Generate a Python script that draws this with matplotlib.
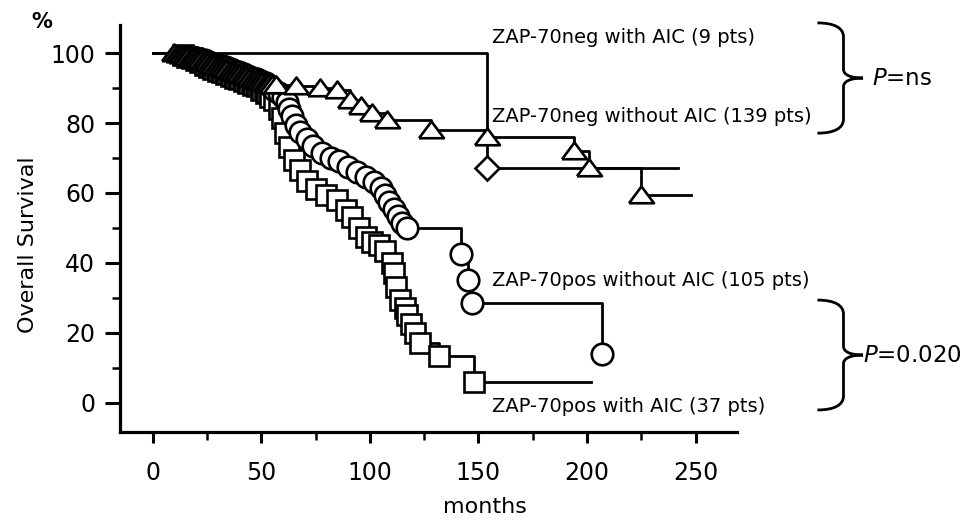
import matplotlib
matplotlib.use("Agg")
import matplotlib.pyplot as plt
from matplotlib.path import Path
from matplotlib.patches import PathPatch

# --- data (months, % survival) ---
# ZAP-70neg without AIC (triangles)
neg_wo_t = [10, 11.5, 13, 14.5, 16, 17.5, 19, 20.5, 22, 23.5, 25, 26.5, 28, 29.5, 31, 32.5,
            34, 35.5, 37, 38.5, 40, 41.5, 43, 44.5, 46, 47.5, 49, 50.5, 52, 53.5, 55, 57,
            66, 77, 85, 91, 96, 101, 108, 128, 154, 194, 201, 225]
neg_wo_s = [100, 99.8, 99.5, 99.2, 99, 98.7, 98.5, 98.2, 98, 97.7, 97.3, 97, 96.7, 96.3, 96, 95.6,
            95.3, 95, 94.6, 94.3, 94, 93.7, 93.3, 93, 92.7, 92.4, 92, 91.8, 91.5, 91.3, 91, 90.8,
            90.5, 90, 89.5, 86.5, 85, 83, 81, 78, 76, 72, 67, 59.5]
neg_wo_end = 248

# ZAP-70neg with AIC (diamonds)
neg_w_t = [154]
neg_w_s = [67]
neg_w_end = 242

# ZAP-70pos without AIC (circles)
pos_wo_t = [18, 20, 22, 24, 26, 28, 30, 32, 34, 36, 38, 40, 42, 44, 46, 48, 50, 52, 54, 56,
            58, 60, 62, 63, 64, 66, 68, 71, 74, 78, 82, 86, 90, 94, 98, 102, 105, 107, 109, 111,
            113, 115, 117, 142, 145, 147, 207]
pos_wo_s = [99, 98.7, 98.3, 98, 97.5, 97, 96.7, 96.3, 96, 95.5, 95, 94.5, 94, 93.5, 93, 92.5, 92, 91.3, 90.5, 89.5,
            88.5, 87.5, 86, 84, 82, 79.5, 77.5, 75.5, 73.5, 71.5, 70, 69, 67.5, 66, 64.5, 63, 61.5, 59.5, 57.5, 55.5,
            53.5, 51.5, 50, 42.5, 35, 28.5, 14]
pos_wo_end = 207

# ZAP-70pos with AIC (squares)
pos_w_t = [14, 16, 18, 20, 22, 24, 26, 28, 30, 32, 34, 36, 38, 40, 42, 44, 46, 48, 50, 52,
           54, 56, 58, 59.5, 61, 63, 65, 68, 71, 75, 80, 85, 89, 92, 95, 98, 101, 104, 107, 110,
           111, 112, 114, 116, 117, 119, 121, 123, 132, 148]
pos_w_s = [99.5, 99, 98.5, 98, 97.5, 96.5, 96, 95.5, 95, 94.5, 94, 93.5, 93, 92.5, 92, 91.5, 91, 90.5, 89.5, 88.5,
           87.5, 86.5, 84, 81.5, 77, 73, 69.5, 66.5, 63.5, 61, 59.5, 58, 55, 53, 50, 47.5, 46, 45, 43.5, 40,
           37, 33, 29.5, 27, 25, 22.5, 20, 17, 13.5, 6]
pos_w_end = 202

labels = ["ZAP-70neg with AIC (9 pts)", "ZAP-70neg without AIC (139 pts)",
          "ZAP-70pos without AIC (105 pts)", "ZAP-70pos with AIC (37 pts)"]
label_y = [104.3, 82, 35.1, -1.1]
p_values = ["ns", "0.020"]
brace_ranges = [(108.6, 77.1), (29.4, -2.0)]

x_major = [0, 50, 100, 150, 200, 250]
x_minor = [25, 75, 125, 175, 225]
y_major = [0, 20, 40, 60, 80, 100]
y_minor = [10, 30, 50, 70, 90]

# early censor marks overlap into a dark smudge in the original
dense_until = 54

fig = plt.figure(figsize=(9.78, 5.2), dpi=100)
ax = fig.add_axes([0.1227, 0.1692, 0.6309, 0.7827])

tri = [(-1, -0.62), (1, -0.62), (0, 0.72), (-1, -0.62)]


def km(t, s, end, marker, ms):
    xs = [0] + t + [end]
    ys = [100] + s + [s[-1]]
    ax.step(xs, ys, where="post", color="black", lw=2.0, zorder=2)
    early = [(a, b) for a, b in zip(t, s) if a < dense_until]
    late = [(a, b) for a, b in zip(t, s) if a >= dense_until]
    if early:
        ax.plot(*zip(*early), ls="none", marker=marker, ms=ms, mfc="#302828",
                mec="black", mew=1.9, zorder=3)
    if late:
        ax.plot(*zip(*late), ls="none", marker=marker, ms=ms, mfc="white",
                mec="black", mew=1.9, zorder=3)


km(pos_w_t, pos_w_s, pos_w_end, "s", 14)
km(pos_wo_t, pos_wo_s, pos_wo_end, "o", 15.5)
km(neg_wo_t, neg_wo_s, neg_wo_end, tri, 18)
km(neg_w_t, neg_w_s, neg_w_end, "D", 12)

ax.set_xlim(-15, 269)
ax.set_ylim(-8.3, 108)
ax.spines["top"].set_visible(False)
ax.spines["right"].set_visible(False)
for side in ["left", "bottom"]:
    ax.spines[side].set_linewidth(2.3)

ax.set_xticks(x_major)
ax.set_xticks(x_minor, minor=True)
ax.set_yticks(y_major)
ax.set_yticks(y_minor, minor=True)
ax.tick_params(axis="x", which="major", length=8, width=2.2, pad=13, labelsize=17)
ax.tick_params(axis="x", which="minor", length=6, width=1.8)
ax.tick_params(axis="y", which="major", length=11, width=2.2, pad=7, labelsize=17)
ax.tick_params(axis="y", which="minor", length=6, width=1.8)

for txt, y in zip(labels, label_y):
    ax.text(156, y, txt, fontsize=14, va="center", ha="left", clip_on=False)


def brace(y_top, y_bot, xl=306, xm=318, xt=327):
    ym = (y_top + y_bot) / 2
    verts = [(xl, y_top), (xm - 4, y_top), (xm, y_top - 1.5), (xm, y_top - 4),
             (xm, ym + 2.5),
             (xm, ym + 1), (xm + 3, ym), (xt, ym),
             (xm + 3, ym), (xm, ym - 1), (xm, ym - 2.5),
             (xm, y_bot + 4),
             (xm, y_bot + 1.5), (xm - 4, y_bot), (xl, y_bot)]
    codes = [Path.MOVETO, Path.CURVE4, Path.CURVE4, Path.CURVE4,
             Path.LINETO,
             Path.CURVE4, Path.CURVE4, Path.CURVE4,
             Path.CURVE4, Path.CURVE4, Path.CURVE4,
             Path.LINETO,
             Path.CURVE4, Path.CURVE4, Path.CURVE4]
    ax.add_patch(PathPatch(Path(verts, codes), fill=False, lw=2.0, color="black",
                           clip_on=False))
    return ym


for (yt, yb), pv, px in zip(brace_ranges, p_values, [331, 327]):
    ym = brace(yt, yb)
    ax.text(px, ym, r"$\it{P}$=" + pv, fontsize=16.5, va="center", ha="left", clip_on=False)

fig.text(485 / 978, 1 - 507 / 520, "months", fontsize=16, ha="center", va="center")
fig.text(28 / 978, 1 - 245 / 520, "Overall Survival", fontsize=16, rotation=90,
         ha="center", va="center")
fig.text(42 / 978, 1 - 22 / 520, "%", fontsize=15, fontweight="bold", ha="center", va="center")

fig.savefig("out.png", dpi=100)
